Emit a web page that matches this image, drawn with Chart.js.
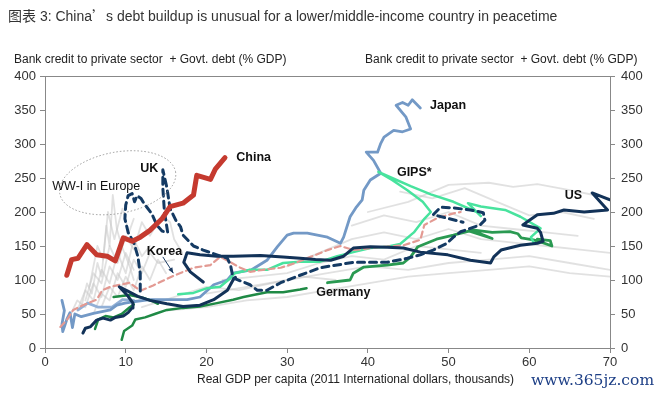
<!DOCTYPE html>
<html>
<head>
<meta charset="utf-8">
<script src="https://cdn.jsdelivr.net/npm/chart.js@4.4.1/dist/chart.umd.min.js"></script>
<style>
  body { margin: 0; background: #fff; font-family: "Liberation Sans", Arial, sans-serif; }
  #wrap { position: relative; width: 654px; height: 395px; }
  canvas { position: absolute; left: 0; top: 0; }
  .txt { position: absolute; color: #222; white-space: nowrap; }
  .cjk { font-family: "Noto Sans CJK SC", sans-serif; }
</style>
</head>
<body>
<div id="wrap">
  <canvas id="debt" width="654" height="395"></canvas>
  <div class="txt" style="left:8px;top:5px;font-size:14px;color:#333"><span class="cjk">图表</span> 3: China<span class="cjk">’</span>s debt buildup is unusual for a lower/middle-income country in peacetime</div>
  <div class="txt" style="left:14px;top:52px;font-size:12px">Bank credit to private sector &nbsp;+ Govt. debt (% GDP)</div>
  <div class="txt" style="left:365px;top:52px;font-size:12px">Bank credit to private sector &nbsp;+ Govt. debt (% GDP)</div>
  <div class="txt" style="left:197px;top:372px;font-size:12px">Real GDP per capita (2011 International dollars, thousands)</div>
  <div class="txt" style="left:531px;top:371px;font-size:15.5px;font-family:'DejaVu Serif',serif;color:#1d3f86">www.365jz.com</div>
</div>
<script>
// [GDP per capita (k), debt % GDP]
const china = [[2.7,107],[3.3,130],[4.1,132],[5.2,152],[6.4,137],[7.7,135],[8.7,128],[9.7,162],[10.8,157],[11.8,163],[13,173],[14.5,190],[15.5,208],[17.1,213],[18.4,225],[18.8,254],[20.5,248],[21.1,263],[22.3,280]];
const japan = [[2.1,70],[2.4,55],[2.1,35],[2.2,24],[2.7,42],[3.1,52],[3.4,30],[3.7,50],[4.5,46],[6,51],[8.1,56],[8.9,63],[9.9,66],[10.9,68],[13,71],[15.1,71],[17.6,71],[19.2,75],[20.9,93],[22.6,100],[23.3,110],[25.6,115],[27.5,129],[28.8,149],[30,166],[30.8,169],[32.5,169],[35,163],[36.6,154],[37,163],[37.8,193],[38.5,206],[39.3,218],[39.5,232],[40.3,247],[41.6,257],[40.7,276],[39.8,288],[41.2,288],[41.6,301],[42,310],[43.2,320],[44.3,318],[45.3,322],[44.7,340],[43.5,357],[44.3,361],[45,357],[45.5,365],[46.5,353]];
const japanEarly = [[4.1,56],[5.3,66],[6.6,60],[8.3,60],[9.6,71],[11,70]];
const uk = [[11.8,84],[11.8,110],[11.5,135],[11,155],[10.3,170],[9.9,190],[10,210],[10.3,224],[10.8,227],[11.1,215],[11.4,224],[11.9,220],[12.3,212],[13.2,198],[13.9,180],[14.5,172],[15.2,170],[14.8,200],[14.6,235],[14.6,262],[15.1,236],[15.5,205],[16.2,188],[16.8,178],[17.1,166],[18.4,150],[19.6,144],[21.3,137],[22.6,132],[23,121],[23.3,103],[25.4,93],[26.3,85],[27.5,85],[29.2,96],[31.6,107],[34.1,118],[38.2,126],[42.4,126],[44.9,132],[46.5,137],[48.1,144],[49.8,154],[50.6,163],[51.5,171],[53.9,181],[54.5,188],[54.3,199],[52.7,203],[50.6,206],[49,207],[48.1,196],[49.8,191],[51.8,185]];
const korea = [[1.9,31],[2.7,41],[3.5,56],[4.7,63],[6.4,71],[7.1,85],[8.1,90],[10.5,96],[11.8,84],[13.4,92],[15.9,106],[18.4,118],[20.5,122],[21.7,134],[23,126],[24.2,118],[25.4,112],[27,115],[29.2,118],[31,125],[32.9,134],[35,144],[36.6,150],[38.2,144],[40.3,147],[42.4,149],[44.4,151],[46.5,159],[47,181],[48.6,191],[50.6,198],[51.5,200]];
const usEarly = [[4.7,22],[5,29],[5.6,31],[6.4,41],[7.2,44],[8.1,41],[8.7,45],[9.7,47],[10.3,52],[10.8,59],[10.9,66],[10.3,76],[9.2,90],[10.2,84],[11.5,76],[13,70],[15.1,65],[17.1,61],[19.2,63],[20.9,71],[22.6,85],[23.3,100],[23.6,104]];
const us = [[19.6,97],[18,112],[17.2,126],[17.6,140],[19.2,137],[21.3,135],[23.3,135],[26.7,136],[29.5,134],[31.6,132],[33.5,130],[35.4,129],[37,135],[38.2,147],[40.3,149],[42.4,148],[44.4,147],[46.5,141],[49.9,137],[52.7,129],[55.2,125],[55.6,134],[56.5,144],[58.9,151],[61,154],[61.7,157],[61.4,170],[61,176],[59.2,181],[59.8,186],[61,196],[63,198],[64.3,203],[66.8,200],[69.7,203],[67.8,228],[70,218]];
const gips = [[16.5,79],[18.4,81],[20.1,88],[21.7,90],[23,103],[23.5,110],[25.4,115],[27.5,115],[29.5,125],[31.6,127],[34.1,127],[36.2,135],[38.2,141],[40.3,147],[42.4,149],[44,153],[45.7,170],[47,190],[47.8,200],[46.8,215],[44.9,232],[43,247],[41.3,259],[43,250],[45.3,238],[47.8,226],[50.6,215],[53.5,200],[54,194],[52.4,213],[54,208],[57,203],[58.9,193],[61.4,176],[60.2,163],[60.5,156]];
const germany = [[9.5,12],[9.8,25],[10.8,33],[11.2,42],[12.4,45],[13.6,50],[15.1,56],[17.1,59],[19.2,61],[21.3,66],[23.3,71],[24.6,75],[25.8,78],[27.5,82],[29.5,82],[31.6,86],[32.4,88]];
const germanyLate = [[35,96],[37.8,100],[38.2,110],[39.5,119],[42.4,122],[44.4,125],[45.3,134],[46.2,149],[48.5,160],[50.6,166],[52.5,172],[55.4,161],[52.7,174],[55.4,170],[57.6,171],[58.6,168],[59,162],[60.5,159],[61.4,156],[62.8,150],[62.6,158],[61,160]];
const greenA = [[8.5,75],[10.5,78],[12.1,74],[13.5,68],[14,65]];
const greenB = [[6.2,28],[6.6,42],[7.5,47],[8.5,45],[9.5,50],[10.5,60],[11,64]];
const others = [
  [[4.5,60],[5.2,95],[5.8,80],[6.5,125],[7,105],[7.6,180],[8,150],[8.4,225],[8.9,175],[9.5,150],[10.5,120],[11,100]],
  [[5,70],[6,110],[7,95],[8,150],[9,125],[10,165],[11,145],[12,185],[13,165],[14.5,195],[15.5,185],[16,160],[17,140]],
  [[6,50],[7,80],[8,70],[9,110],[10,90],[11,130],[12,110],[13,140],[14,125],[16,130]],
  [[3,45],[4,70],[5,60],[6,95],[7,75],[8,120],[9,100],[10,140],[11,115]],
  [[4,55],[5,85],[6,70],[7,115],[8,95],[9,140],[10,110],[11,160],[12,135],[13,150]],
  [[7,60],[8,90],[9,75],[10,105],[11,85],[12,120],[13,100],[14,130],[15,110]],
  [[5.5,90],[6.5,150],[7.2,130],[7.8,200],[8.6,160],[9.6,205],[10.4,170],[11,190]],
  [[15,55],[20,60],[25,70],[30,75],[35,85],[40,95],[45,105],[50,110],[55,115],[60,120],[65,110],[70,105]],
  [[20,80],[25,90],[30,100],[35,110],[40,120],[45,115],[50,125],[55,130],[60,135],[65,125],[70,115]],
  [[40,200],[45,215],[50,240],[55,243],[58,237],[61,241],[65,232],[68,225],[70,220]],
  [[44,230],[48,220],[52,235],[56,215],[60,195],[64,200],[68,190]],
  [[38,180],[42,195],[46,185],[50,200],[54,180],[58,175],[62,170],[66,165]],
  [[30,120],[34,140],[38,160],[42,170],[46,160],[50,175],[54,160],[58,155],[62,150],[66,145],[70,140]],
  [[22,100],[26,105],[30,110],[34,125],[38,135],[42,130],[46,150],[50,145],[54,140]],
  [[12,60],[16,75],[20,90],[24,85],[28,95],[32,105],[36,100]]
];

const labels = [
  { text: "China", x: 23.7, y: 280, bold: true },
  { text: "Japan", x: 47.7, y: 356, bold: true },
  { text: "UK", x: 11.8, y: 264, bold: true },
  { text: "GIPS*", x: 43.6, y: 258, bold: true },
  { text: "US", x: 64.4, y: 224, bold: true },
  { text: "Germany", x: 33.6, y: 82, bold: true },
  { text: "Korea", x: 12.6, y: 142, bold: true },
  { text: "WW-I in Europe", x: 0.9, y: 238, bold: false },
];

function line(label, pts, color, width, dash) {
  return {
    label: label,
    data: pts.map(p => ({ x: p[0], y: p[1] })),
    showLine: true,
    borderColor: color,
    backgroundColor: color,
    borderWidth: width,
    borderDash: dash || [],
    pointRadius: 0,
    xAxisID: "x",
    yAxisID: "y",
  };
}

const datasets = [
  line("China", china, "#c53a2f", 5),
  line("UK", uk, "#143a63", 3, [7, 5]),
  line("US", us, "#123258", 3),
  line("US early", usEarly, "#123258", 3),
  line("Korea", korea, "#e39a93", 2.2, [6, 4]),
  line("GIPS", gips, "#48e39e", 2.5),
  line("Germany", germany, "#1f8a45", 2.5),
  line("Germany late", germanyLate, "#2a9a52", 2.8),
  line("Green A", greenA, "#1f8a45", 2.5),
  line("Green B", greenB, "#1f8a45", 2.5),
  line("Japan", japan, "#7399c6", 2.8),
  line("Japan early", japanEarly, "#92b0d6", 2.8),
];
others.forEach((pts, i) => datasets.push(line("Other " + (i + 1), pts, "rgba(200,200,200,0.55)", 1.8)));

const notes = {
  id: "notes",
  afterDatasetsDraw(chart) {
    const { ctx, scales } = chart;
    const sx = scales.x, sy = scales.y;
    ctx.save();
    // WW-I ellipse
    const cx = sx.getPixelForValue(9), cy = sy.getPixelForValue(243);
    const rx = sx.getPixelForValue(7.3) - sx.getPixelForValue(0);
    const ry = sy.getPixelForValue(0) - sy.getPixelForValue(45);
    ctx.beginPath();
    ctx.setLineDash([1.5, 2]);
    ctx.strokeStyle = "#999";
    ctx.lineWidth = 1;
    ctx.ellipse(cx, cy, rx, ry, -0.19, 0, Math.PI * 2);
    ctx.stroke();
    ctx.setLineDash([]);
    // Korea arrow
    const ax0 = sx.getPixelForValue(14.6), ay0 = sy.getPixelForValue(134);
    const ax1 = sx.getPixelForValue(15.9), ay1 = sy.getPixelForValue(110);
    ctx.strokeStyle = "#1b3b63";
    ctx.fillStyle = "#1b3b63";
    ctx.lineWidth = 1;
    ctx.beginPath(); ctx.moveTo(ax0, ay0); ctx.lineTo(ax1, ay1); ctx.stroke();
    const ang = Math.atan2(ay1 - ay0, ax1 - ax0);
    ctx.beginPath();
    ctx.moveTo(ax1, ay1);
    ctx.lineTo(ax1 - 6 * Math.cos(ang - 0.4), ay1 - 6 * Math.sin(ang - 0.4));
    ctx.lineTo(ax1 - 6 * Math.cos(ang + 0.4), ay1 - 6 * Math.sin(ang + 0.4));
    ctx.closePath(); ctx.fill();
    // text labels
    ctx.textBaseline = "middle";
    ctx.textAlign = "left";
    labels.forEach(l => {
      ctx.font = (l.bold ? "bold 12.5px" : "12.5px") + ' "Liberation Sans", Arial, sans-serif';
      ctx.fillStyle = "#111";
      ctx.fillText(l.text, sx.getPixelForValue(l.x), sy.getPixelForValue(l.y));
    });
    ctx.restore();
  }
};

const tickFont = { family: '"Liberation Sans", Arial, sans-serif', size: 13 };
const axisGrid = { drawOnChartArea: false, tickLength: 5, color: "#888", lineWidth: 1 };

new Chart(document.getElementById("debt").getContext("2d"), {
  type: "scatter",
  data: { datasets: datasets },
  options: {
    responsive: false,
    animation: false,
    layout: { padding: 0 },
    plugins: { legend: { display: false }, tooltip: { enabled: false } },
    elements: { line: { tension: 0, borderJoinStyle: "round", borderCapStyle: "round" } },
    scales: {
      x: {
        type: "linear", position: "bottom", min: 0, max: 70,
        ticks: { stepSize: 10, color: "#333", font: tickFont, padding: 2 },
        grid: axisGrid, border: { color: "#888" },
        afterFit(s) { s.height = 47; },
      },
      xTop: {
        type: "linear", position: "top", min: 0, max: 70,
        ticks: { display: false },
        grid: { drawOnChartArea: false, drawTicks: false },
        border: { color: "#888" },
        afterFit(s) { s.height = 76; },
      },
      y: {
        type: "linear", position: "left", min: 0, max: 400,
        ticks: { stepSize: 50, color: "#333", font: tickFont, padding: 4 },
        grid: axisGrid, border: { color: "#888" },
        afterFit(s) { s.width = 45; },
      },
      y2: {
        type: "linear", position: "right", min: 0, max: 400,
        ticks: { stepSize: 50, color: "#333", font: tickFont, padding: 6 },
        grid: axisGrid, border: { color: "#888" },
        afterFit(s) { s.width = 44; },
      },
    },
  },
  plugins: [notes],
});
</script>
</body>
</html>
